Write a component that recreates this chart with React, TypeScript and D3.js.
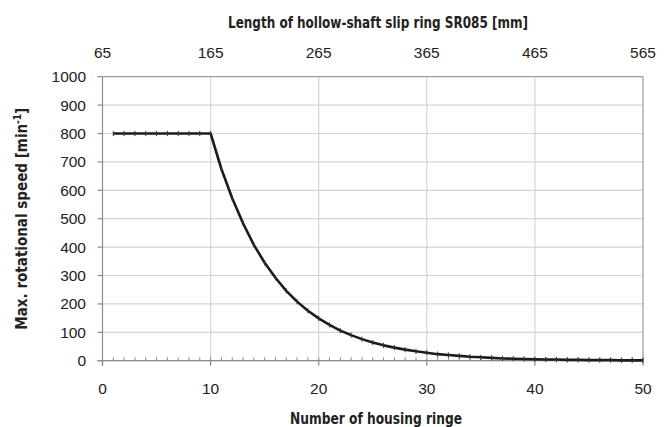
import React from "react";
import * as d3 from "d3";

const ringCounts: number[] = d3.range(1, 51);
const maxSpeed: number[] = [
  800, 800, 800, 800, 800, 800, 800, 800, 800, 800,
  675, 572, 484, 408, 345, 292, 246, 208, 176, 149,
  126, 106, 90, 76, 64, 54, 46, 39, 33, 28,
  23, 20, 17, 14, 12, 10, 8, 7, 6, 5,
  4, 4, 3, 3, 2, 2, 2, 1, 1, 1,
];
const xTicks: number[] = [0, 10, 20, 30, 40, 50];
const topTicks: number[] = [65, 165, 265, 365, 465, 565];
const yTicks: number[] = [0, 100, 200, 300, 400, 500, 600, 700, 800, 900, 1000];
const xMinorTicks: number[] = d3.range(0, 51);

const W = 671;
const H = 427;
const left = 102.5;
const right = 643;
const top = 76.7;
const bottom = 360.7;

const tickFont = "'Liberation Sans', Arial, sans-serif";
const titleFont = "'Liberation Sans Narrow', 'Arial Narrow', 'DejaVu Sans Condensed', sans-serif";

export default function App() {
  const x = d3.scaleLinear().domain([0, 50]).range([left, right]);
  const xTop = d3.scaleLinear().domain([65, 565]).range([left, right]);
  const y = d3.scaleLinear().domain([0, 1000]).range([bottom, top]);

  const data = ringCounts.map((n, i) => [n, maxSpeed[i]] as [number, number]);
  const line = d3
    .line<[number, number]>()
    .x((d) => x(d[0]))
    .y((d) => y(d[1]));

  return (
    <svg
      width={W}
      height={H}
      style={{ position: "absolute", left: 0, top: 0, background: "#fff" }}
    >
      <rect x={0} y={0} width={W} height={H} fill="#fff" />
      {yTicks.map((t) => (
        <line
          key={"hy" + t}
          x1={left}
          x2={right}
          y1={y(t)}
          y2={y(t)}
          stroke={t === 1000 ? "#9a9a9a" : "#d4d4d4"}
          strokeWidth={1.2}
        />
      ))}
      {xTicks.map((t) => (
        <line
          key={"vx" + t}
          x1={x(t)}
          x2={x(t)}
          y1={top}
          y2={bottom}
          stroke={t === 50 ? "#9a9a9a" : t === 0 ? "none" : "#d4d4d4"}
          strokeWidth={1.2}
        />
      ))}
      <line x1={left} x2={left} y1={top} y2={bottom + 5} stroke="#8a8a8a" strokeWidth={1.2} />
      {yTicks.map((t) => (
        <line
          key={"ty" + t}
          x1={left - 5}
          x2={left}
          y1={y(t)}
          y2={y(t)}
          stroke="#8a8a8a"
          strokeWidth={1.2}
        />
      ))}
      <line x1={left - 5} x2={right} y1={bottom} y2={bottom} stroke="#8a8a8a" strokeWidth={1.2} />
      {xMinorTicks.map((t) => (
        <line
          key={"mx" + t}
          x1={x(t)}
          x2={x(t)}
          y1={bottom - 3.5}
          y2={bottom}
          stroke="#8a8a8a"
          strokeWidth={1}
        />
      ))}
      {xTicks.map((t) => (
        <line
          key={"Mx" + t}
          x1={x(t)}
          x2={x(t)}
          y1={bottom}
          y2={bottom + 5}
          stroke="#8a8a8a"
          strokeWidth={1.2}
        />
      ))}
      <path d={line(data) || ""} fill="none" stroke="#1c1c1c" strokeWidth={2.6} strokeLinejoin="round" />
      {data.map((d) => (
        <line
          key={"mk" + d[0]}
          x1={x(d[0])}
          x2={x(d[0])}
          y1={y(d[1]) - 2.6}
          y2={y(d[1]) + 2.6}
          stroke="#333"
          strokeWidth={1}
        />
      ))}
      {yTicks.map((t) => (
        <text
          key={"ly" + t}
          x={86}
          y={y(t) + 5.5}
          textAnchor="end"
          fontFamily={tickFont}
          fontSize={15.5}
          fill="#222"
        >
          {t}
        </text>
      ))}
      {xTicks.map((t) => (
        <text
          key={"lx" + t}
          x={x(t)}
          y={394}
          textAnchor="middle"
          fontFamily={tickFont}
          fontSize={15.5}
          fill="#222"
        >
          {t}
        </text>
      ))}
      {topTicks.map((t) => (
        <text
          key={"lt" + t}
          x={xTop(t)}
          y={57.5}
          textAnchor="middle"
          fontFamily={tickFont}
          fontSize={15.5}
          fill="#222"
        >
          {t}
        </text>
      ))}
      <text
        x={378}
        y={28}
        textAnchor="middle"
        fontFamily={titleFont}
        fontWeight="bold"
        fontSize={16}
        fill="#222"
        textLength={300}
        lengthAdjust="spacingAndGlyphs"
      >
        Length of hollow-shaft slip ring SR085 [mm]
      </text>
      <text
        x={376}
        y={424}
        textAnchor="middle"
        fontFamily={titleFont}
        fontWeight="bold"
        fontSize={16}
        fill="#222"
        textLength={172}
        lengthAdjust="spacingAndGlyphs"
      >
        Number of housing ringe
      </text>
      <text
        transform={`translate(27,${(top + bottom) / 2}) rotate(-90)`}
        textAnchor="middle"
        fontFamily={titleFont}
        fontWeight="bold"
        fontSize={15}
        fill="#222"
        textLength={222}
        lengthAdjust="spacingAndGlyphs"
      >
        Max. rotational speed [min
        <tspan fontSize={10} dy={-6}>-1</tspan>
        <tspan dy={6}>]</tspan>
      </text>
    </svg>
  );
}
